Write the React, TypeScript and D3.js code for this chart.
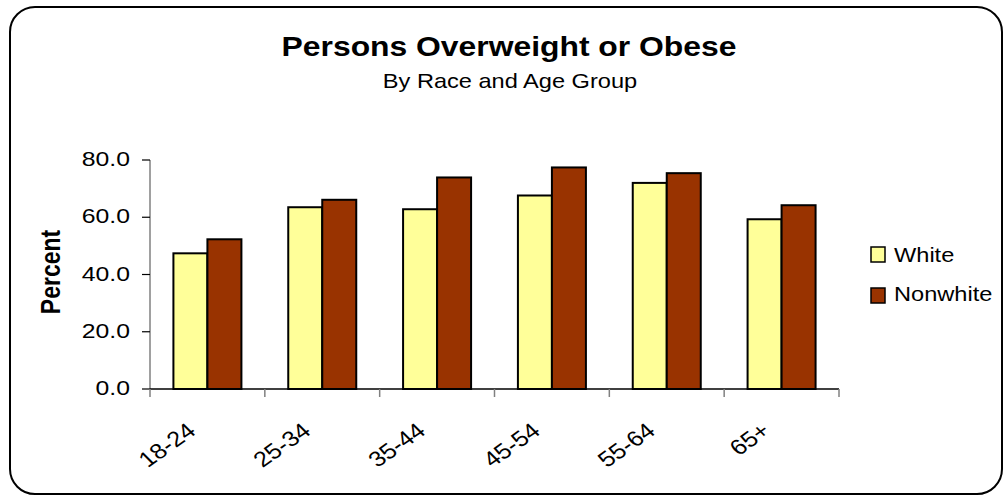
import React from "react";
import * as d3 from "d3";

const categories = ["18-24", "25-34", "35-44", "45-54", "55-64", "65+"];
const seriesNames = ["White", "Nonwhite"];
const whiteValues = [47.4, 63.5, 62.8, 67.6, 72.0, 59.3];
const nonwhiteValues = [52.3, 66.1, 73.9, 77.4, 75.4, 64.2];
const yTicks = [0, 20, 40, 60, 80];
const colors = ["#FFFF99", "#993300"];

const SX = 1.18;
const FONT = "'Liberation Sans', Arial, sans-serif";

const W = 1003;
const H = 495;
const plotLeft = 150;
const plotRight = 839;
const plotTop = 160;
const plotBottom = 389;

function T({ x, y, r = 0, anchor = "start", size, weight = "normal", children }: any) {
  return (
    <text
      transform={`translate(${x},${y}) scale(${SX},1) rotate(${r})`}
      textAnchor={anchor}
      fontSize={size}
      fontWeight={weight}
      fontFamily={FONT}
      fill="#000"
    >
      {children}
    </text>
  );
}

export default function App() {
  const x = d3.scaleBand<string>().domain(categories).range([plotLeft, plotRight]).paddingInner(0).paddingOuter(0);
  const y = d3.scaleLinear().domain([0, 80]).range([plotBottom, plotTop]);
  const barW = 34;
  const series = [whiteValues, nonwhiteValues];
  const tickXs = [...categories.map((c) => x(c)!), plotRight];

  return (
    <svg width={W} height={H} style={{ position: "absolute", left: 0, top: 0, background: "#fff" }}>
      <rect x={10} y={7} width={992} height={487} rx={25} ry={25} fill="#fff" stroke="#000" strokeWidth={2} />

      <T x={509} y={56} anchor="middle" size={27} weight="bold">Persons Overweight or Obese</T>
      <T x={510} y={88} anchor="middle" size={20}>By Race and Age Group</T>

      {/* y axis */}
      <line x1={plotLeft} x2={plotLeft} y1={plotTop} y2={plotBottom} stroke="#808080" strokeWidth={1.5} />
      {yTicks.map((t) => (
        <g key={t}>
          <line x1={plotLeft - 8} x2={plotLeft} y1={y(t)} y2={y(t)} stroke="#000" strokeWidth={1.2} />
          <T x={130} y={y(t) + 6} anchor="end" size={21}>{t.toFixed(1)}</T>
        </g>
      ))}
      <T x={60} y={272} r={-90} anchor="middle" size={23} weight="bold">Percent</T>

      {/* bars */}
      {categories.map((c, i) => {
        const cx = x(c)! + x.bandwidth() / 2;
        return series.map((vals, s) => (
          <rect
            key={c + s}
            x={cx - barW + s * barW}
            y={y(vals[i])}
            width={barW}
            height={plotBottom - y(vals[i])}
            fill={colors[s]}
            stroke="#000"
            strokeWidth={2}
          />
        ));
      })}

      {/* x axis */}
      <line x1={plotLeft} x2={plotRight} y1={plotBottom} y2={plotBottom} stroke="#000" strokeWidth={1.5} />
      {tickXs.map((tx, i) => (
        <line key={i} x1={tx} x2={tx} y1={plotBottom} y2={plotBottom + 8} stroke="#808080" strokeWidth={1.5} />
      ))}
      {categories.map((c) => {
        const cx = x(c)! + x.bandwidth() / 2;
        return (
          <T key={c} x={cx - 10} y={433} r={-40} anchor="end" size={21.5}>{c}</T>
        );
      })}

      {/* legend */}
      {seriesNames.map((n, i) => (
        <g key={n}>
          <rect x={871} y={247 + i * 41} width={14} height={15} fill={colors[i]} stroke="#000" strokeWidth={1.5} />
          <T x={894} y={262 + i * 39} size={20}>{n}</T>
        </g>
      ))}
    </svg>
  );
}
